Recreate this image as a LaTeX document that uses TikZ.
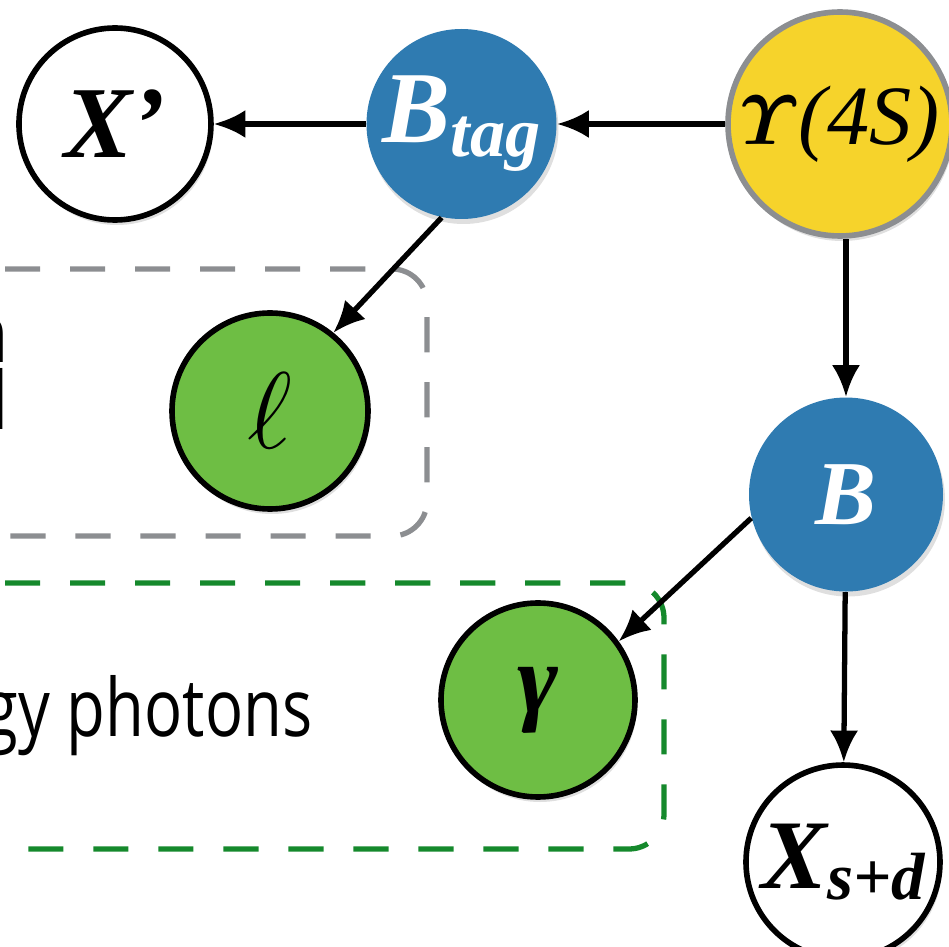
\RequirePackage{fix-cm}
\documentclass[tikz,border=0pt]{standalone}
\usepackage{amsmath}
\usepackage{amssymb}
\usepackage[no-math]{fontspec}
\usepackage{tikz}
\usetikzlibrary{arrows.meta,positioning,shadows}
\newfontfamily\serifnode{Liberation Serif}
\newfontfamily\notefont{Open Sans}
\newcommand{\plabel}[1]{\makebox[0pt]{#1}}
\definecolor{bblue}{HTML}{2F7BB1}
\definecolor{lgreen}{HTML}{6EBE44}
\definecolor{uyellow}{HTML}{F6D32B}
\definecolor{boxgray}{HTML}{8C8E91}
\definecolor{boxgreen}{HTML}{15892C}

\begin{document}
\begin{tikzpicture}[
    particle/.style={circle, inner sep=0pt, minimum size=1.94cm,
      drop shadow={shadow xshift=0.02cm, shadow yshift=-0.05cm, opacity=0.25}},
    meson/.style={particle, fill=bblue, text=white},
    final/.style={particle, draw=black, line width=1.6pt, fill=white},
    daughter/.style={particle, draw=black, line width=1.6pt, fill=lgreen},
    note/.style={inner sep=0pt, anchor=base east, font=\notefont\fontsize{18}{22}\selectfont},
    group/.style={line width=1.5pt, dash pattern=on 10pt off 8.5pt, rounded corners=0.35cm},
    decay/.style={-{Latex[length=9pt,width=8pt]}, line width=1.5pt}
  ]
    \useasboundingbox (0,0) rectangle (9.49,-9.47);
    \clip (0,0) rectangle (9.49,-9.47);

    % selection boxes
    \draw[group, boxgray] (-0.6,-2.69) -- (4.27,-2.69) -- (4.27,-5.36) -- (-0.6,-5.36);
    \draw[group, boxgreen] (-0.6,-5.83) -- (6.64,-5.83) -- (6.64,-8.49) -- (-0.6,-8.49);

    % text cut off at the left edge
    \node[note] (txtn) at (0.09,-3.63) {\scalebox{1}[1.27]{n}};
    \node[note] (txtd) at (0.09,-4.30) {\scalebox{1}[1.27]{d}};
    \node[note] (txtgam) at (3.13,-7.36) {\scalebox{1}[1.27]{gy photons}};

    \node[particle, minimum size=2.24cm, fill=uyellow, draw=boxgray, line width=1.6pt] (ups) at (8.40,-1.24)
      {\plabel{\fontsize{20}{24}\selectfont$\boldsymbol{\varUpsilon}$\serifnode\itshape\fontsize{24}{28}\selectfont(4S)}};
    \node[meson, minimum size=1.9cm] (btag) [left=1.68cm of ups]
      {\plabel{\serifnode\bfseries\itshape\fontsize{29}{30}\selectfont B\raisebox{-4pt}{\fontsize{20}{22}\selectfont tag}}};
    \node[final, minimum size=1.92cm] (xp) [left=1.52cm of btag]
      {\plabel{\serifnode\bfseries\itshape\fontsize{29}{30}\selectfont X’}};
    \node[meson] (bsig) [below=1.58cm of ups, xshift=0.06cm]
      {\plabel{\serifnode\bfseries\itshape\fontsize{26}{28}\selectfont B}};
    \node[final] (xsd) [below=1.70cm of bsig, xshift=-0.03cm]
      {\plabel{\serifnode\bfseries\itshape\fontsize{28}{30}\selectfont X\raisebox{-3pt}{\fontsize{19}{20}\selectfont s+d}}};
    \node[daughter, minimum size=1.96cm] (lep) at (2.70,-4.11) {\plabel{\fontsize{31}{32}\selectfont$\ell$}};
    \node[daughter] (gam) at (5.38,-7.00) {\plabel{\serifnode\bfseries\itshape\fontsize{28}{30}\selectfont γ}};

    \path[decay]
    (ups) edge (btag)
    (btag) edge (xp)
    (btag.258) edge (lep.51)
    (ups.south -| bsig) edge (bsig)
    (bsig.194) edge (gam.36)
    (bsig) edge (xsd);
  \end{tikzpicture}
\end{document}
